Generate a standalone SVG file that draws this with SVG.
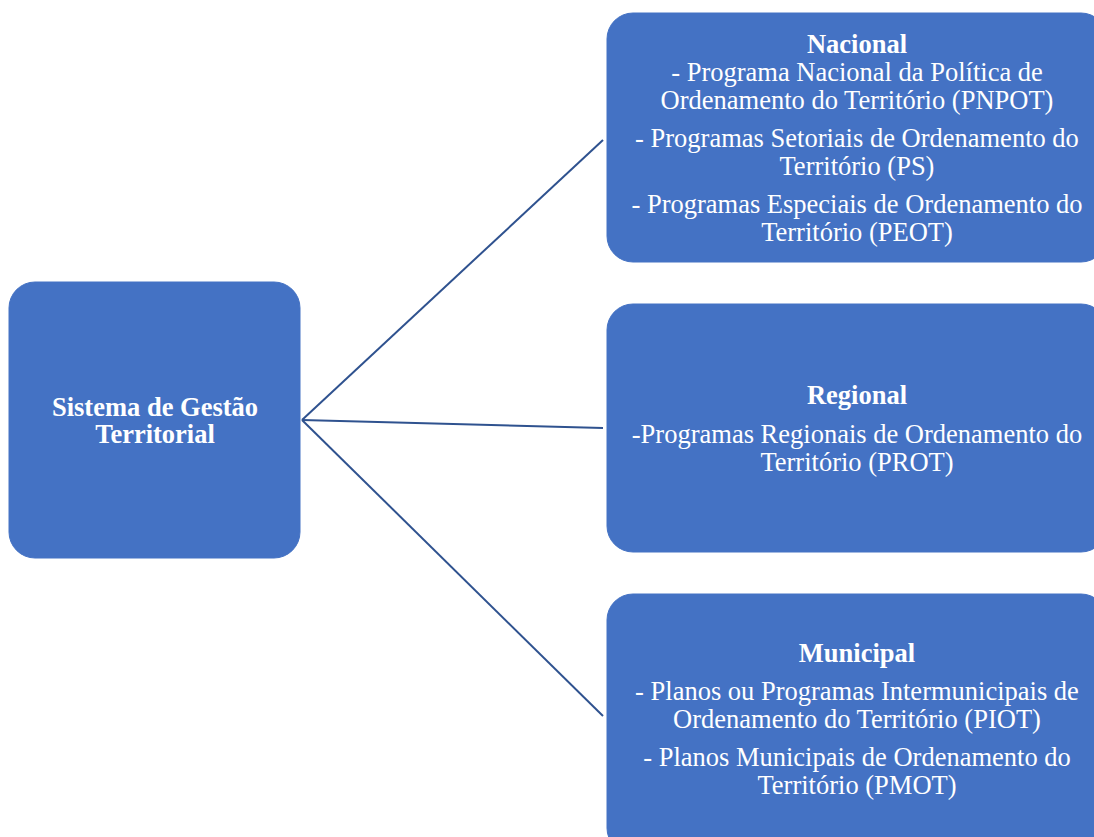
<svg xmlns="http://www.w3.org/2000/svg" width="1094" height="837" viewBox="0 0 1094 837">
  <style>
    .box { fill: #4472C4; stroke: #4472C4; stroke-width: 1; }
    .link { stroke: #2F528F; stroke-width: 2; fill: none; }
    text { font-family: "Liberation Serif", "Times New Roman", serif; fill: #FFFFFF; text-anchor: middle; font-size: 26.5px; }
    .head { font-weight: bold; }
  </style>
  <rect width="1094" height="837" fill="#FFFFFF"/>

  <g id="connectors">
    <line class="link" x1="302" y1="420" x2="603" y2="140"/>
    <line class="link" x1="302" y1="420" x2="603" y2="428"/>
    <line class="link" x1="302" y1="420" x2="603" y2="716"/>
  </g>

  <g id="sistema">
    <rect class="box" x="9" y="282" width="291" height="276" rx="26"/>
    <text class="head" x="155" y="416">Sistema de Gestão</text>
    <text class="head" x="155" y="443">Territorial</text>
  </g>

  <g id="nacional">
    <rect class="box" x="607" y="13" width="500" height="249" rx="26"/>
    <text class="head" x="857" y="53">Nacional</text>
    <text x="857" y="81">- Programa Nacional da Política de</text>
    <text x="857" y="109">Ordenamento do Território (PNPOT)</text>
    <text x="857" y="147">- Programas Setoriais de Ordenamento do</text>
    <text x="857" y="175">Território (PS)</text>
    <text x="857" y="213">- Programas Especiais de Ordenamento do</text>
    <text x="857" y="241">Território (PEOT)</text>
  </g>

  <g id="regional">
    <rect class="box" x="607" y="304" width="500" height="248" rx="26"/>
    <text class="head" x="857" y="404">Regional</text>
    <text x="857" y="443">-Programas Regionais de Ordenamento do</text>
    <text x="857" y="471">Território (PROT)</text>
  </g>

  <g id="municipal">
    <rect class="box" x="607" y="594" width="500" height="260" rx="26"/>
    <text class="head" x="857" y="662">Municipal</text>
    <text x="857" y="700">- Planos ou Programas Intermunicipais de</text>
    <text x="857" y="728">Ordenamento do Território (PIOT)</text>
    <text x="857" y="766">- Planos Municipais de Ordenamento do</text>
    <text x="857" y="794">Território (PMOT)</text>
  </g>
</svg>
